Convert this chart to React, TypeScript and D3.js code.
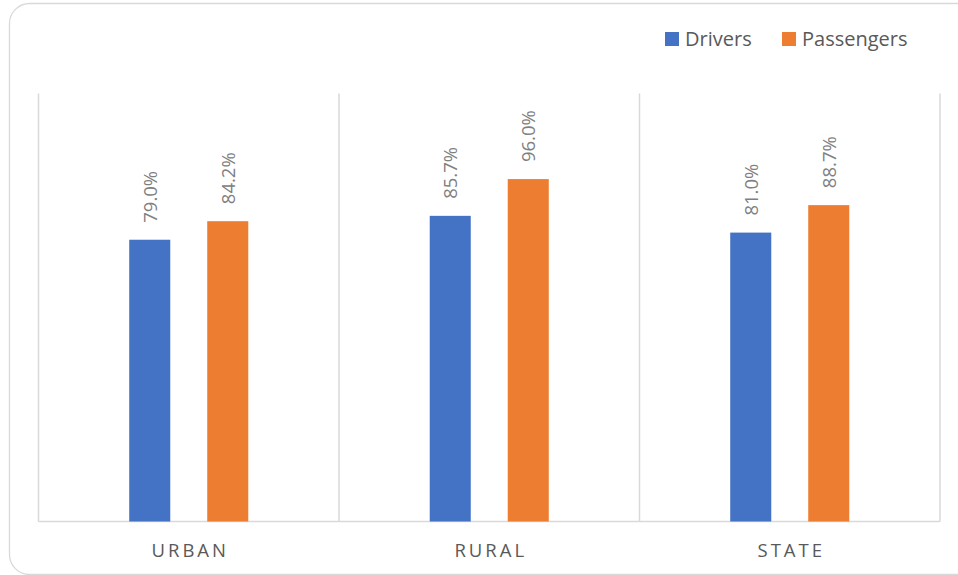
import React from "react";
import * as d3 from "d3";

const categories = ["URBAN", "RURAL", "STATE"];
const seriesNames = ["Drivers", "Passengers"];
const drivers = [0.79, 0.857, 0.81];
const passengers = [0.842, 0.96, 0.887];
const seriesColors = ["#4472C4", "#ED7D31"];
const yMax = 1.2;

const W = 958;
const H = 575;
const FONT = "'Open Sans', 'DejaVu Sans', sans-serif";

export default function App() {
  const plotLeft = 38.5;
  const plotRight = 940;
  const plotTop = 93.5;
  const plotBottom = 521.5;

  const x0 = d3.scaleBand<string>().domain(categories).range([plotLeft, plotRight]).padding(0);
  const x1 = d3
    .scaleBand<string>()
    .domain(seriesNames)
    .range([0, x0.bandwidth()])
    .paddingInner(0.474)
    .paddingOuter(1.163);
  const y = d3.scaleLinear().domain([0, yMax]).range([plotBottom, plotTop]);
  const fmt = d3.format(".1%");
  const seriesValues = [drivers, passengers];

  const gridXs = [...categories.map((c) => x0(c) as number), plotRight];

  const legendItems = [
    { name: seriesNames[0], sx: 665, tx: 685 },
    { name: seriesNames[1], sx: 782, tx: 802 },
  ];

  return (
    <svg
      width={W}
      height={H}
      style={{ position: "fixed", left: 0, top: 0, background: "#fff" }}
      fontFamily={FONT}
    >
      <rect x={9.5} y={3.5} width={968} height={571} rx={20} ry={20} fill="#fff" stroke="#d9d9d9" strokeWidth={1.3} />

      {gridXs.map((gx, i) => (
        <line key={i} x1={gx} x2={gx} y1={plotTop} y2={plotBottom} stroke="#d9d9d9" strokeWidth={1.5} />
      ))}
      <line x1={plotLeft} x2={plotRight} y1={plotBottom} y2={plotBottom} stroke="#d9d9d9" strokeWidth={1.5} />

      {categories.map((c, ci) => (
        <g key={c} transform={`translate(${x0(c)},0)`}>
          {seriesNames.map((s, si) => {
            const v = seriesValues[si][ci];
            const bx = x1(s) as number;
            const bw = x1.bandwidth();
            const top = y(v);
            const cx = bx + bw / 2;
            return (
              <g key={s}>
                <rect x={bx} y={top} width={bw} height={plotBottom - top} fill={seriesColors[si]} />
                <text
                  transform={`translate(${cx + 7},${top - 17}) rotate(-90)`}
                  fontSize={18.5}
                  fill="#808080"
                  textAnchor="start"
                >
                  {fmt(v)}
                </text>
              </g>
            );
          })}
          <text
            x={x0.bandwidth() / 2 + 1.5}
            y={556.5}
            fontSize={18.5}
            letterSpacing={3}
            textAnchor="middle"
            fill="#595959"
          >
            {c}
          </text>
        </g>
      ))}

      {legendItems.map((l, i) => (
        <g key={l.name}>
          <rect x={l.sx} y={32} width={14} height={14} fill={seriesColors[i]} />
          <text x={l.tx} y={46} fontSize={20} fill="#595959">
            {l.name}
          </text>
        </g>
      ))}
    </svg>
  );
}
